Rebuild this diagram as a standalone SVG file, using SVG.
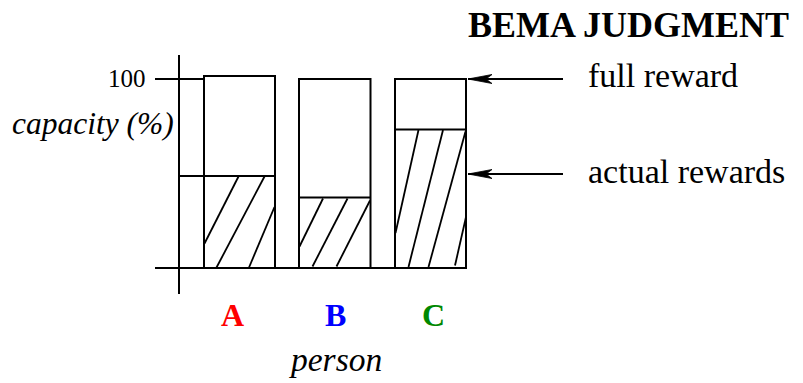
<svg xmlns="http://www.w3.org/2000/svg" width="803" height="383" viewBox="0 0 803 383">
<defs>
<style>
.ln{stroke:#000;stroke-width:2;fill:none;stroke-linecap:butt}
.bar{stroke:#000;stroke-width:2;fill:#fff}
.ht{stroke:#000;stroke-width:1.8;fill:none}
.t{font-family:"Liberation Serif","Times New Roman",serif;fill:#000}
.it{font-style:italic}
.b{font-weight:bold}
.red{fill:#ff0000}
.blue{fill:#0000ff}
.green{fill:#008800}
</style>
<marker id="ah" markerWidth="26" markerHeight="12" refX="25" refY="6" orient="auto" markerUnits="userSpaceOnUse">
<path d="M25,6 L1,1.5 L7,6 L1,10.5 Z" fill="#000" stroke="#000" stroke-width="0.8"/>
</marker>
</defs>
<rect width="803" height="383" fill="#fff"/>
<g id="axes">
<line class="ln" x1="179" y1="55" x2="179" y2="294"/>
<line class="ln" x1="155" y1="79" x2="204" y2="79"/>
<line class="ln" x1="155" y1="268" x2="467" y2="268"/>
<line class="ln" x1="179" y1="176" x2="204" y2="176"/>
</g>
<g id="barA">
<rect class="bar" x="204" y="76" width="71" height="192"/>
<line class="ln" x1="204" y1="176" x2="275" y2="176"/>
<line class="ht" x1="204.5" y1="243.5" x2="238.5" y2="176.5"/>
<line class="ht" x1="216.5" y1="267.5" x2="264.5" y2="176.5"/>
<line class="ht" x1="249" y1="267.5" x2="274.5" y2="207"/>
</g>
<g id="barB">
<rect class="bar" x="299" y="79" width="71.5" height="189"/>
<line class="ln" x1="299" y1="197.5" x2="370.5" y2="197.5"/>
<line class="ht" x1="299.5" y1="246.5" x2="323" y2="198.5"/>
<line class="ht" x1="312.5" y1="266.5" x2="347.5" y2="198.5"/>
<line class="ht" x1="336.5" y1="266.5" x2="370" y2="200.5"/>
</g>
<g id="barC">
<rect class="bar" x="395" y="79" width="71" height="189"/>
<line class="ln" x1="395" y1="129.5" x2="466" y2="129.5"/>
<line class="ht" x1="395.5" y1="233" x2="418.5" y2="130"/>
<line class="ht" x1="408.5" y1="267" x2="443" y2="130"/>
<line class="ht" x1="428.5" y1="267" x2="465.5" y2="131.5"/>
<line class="ht" x1="455" y1="265.5" x2="466" y2="217"/>
</g>
<g id="connectors">
<line class="ln" x1="563" y1="79" x2="468" y2="79" marker-end="url(#ah)"/>
<line class="ln" x1="563" y1="174" x2="468" y2="174" marker-end="url(#ah)"/>
</g>
<g id="labels">
<text class="t b" x="468" y="37" font-size="36">BEMA JUDGMENT</text>
<text class="t" x="588" y="87" font-size="34">full reward</text>
<text class="t" x="588" y="183" font-size="34">actual rewards</text>
<text class="t" x="108" y="87" font-size="25">100</text>
<text class="t it" x="12" y="134" font-size="31.5">capacity (%)</text>
<text class="t b red" x="221" y="326" font-size="32">A</text>
<text class="t b blue" x="325" y="326" font-size="32">B</text>
<text class="t b green" x="422" y="326" font-size="32">C</text>
<text class="t it" x="291" y="371" font-size="33.5">person</text>
</g>
</svg>
